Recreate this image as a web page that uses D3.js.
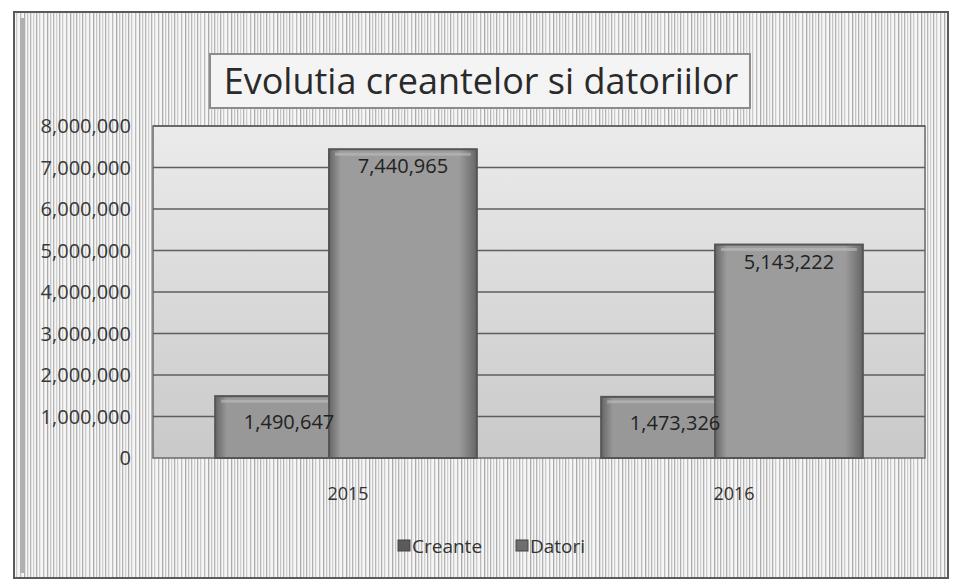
<!DOCTYPE html>
<html>
<head>
<meta charset="utf-8">
<script src="https://cdn.jsdelivr.net/npm/d3@7"></script>
<style>
  body { margin: 0; background: #ffffff; }
  svg { display: block; }
</style>
</head>
<body>
<script>
const years = ["2015", "2016"];
const seriesNames = ["Creante", "Datori"];
const creante = [1490647, 1473326];
const datori = [7440965, 5143222];
const yTicks = [0, 1000000, 2000000, 3000000, 4000000, 5000000, 6000000, 7000000, 8000000];
const title = "Evolutia creantelor si datoriilor";

const width = 953, height = 585;
const plotL = 153, plotR = 925, plotT = 126, plotB = 458;
const font = "'Open Sans', 'DejaVu Sans', sans-serif";
const fmt = d3.format(",");

const svg = d3.select("body").append("svg")
  .attr("width", width)
  .attr("height", height);

const defs = svg.append("defs");

// scan-like vertical stripes of the chart area
const stripes = defs.append("pattern")
  .attr("id", "stripes")
  .attr("patternUnits", "userSpaceOnUse")
  .attr("width", 23).attr("height", 40);
stripes.append("rect").attr("width", 23).attr("height", 40).attr("fill", "#f6f6f6");
[[1, 0.7], [4, 0.45], [7, 0.6], [10, 0.35], [13, 0.65], [16, 0.4], [20, 0.55]].forEach(([x, o]) => {
  stripes.append("rect").attr("x", x).attr("width", 1.3).attr("height", 40)
    .attr("fill", "#8a8a8a").attr("opacity", o);
});

const plotGrad = defs.append("linearGradient")
  .attr("id", "plotGrad").attr("x1", 0).attr("y1", 0).attr("x2", 0).attr("y2", 1);
plotGrad.append("stop").attr("offset", "0%").attr("stop-color", "#ebebeb");
plotGrad.append("stop").attr("offset", "100%").attr("stop-color", "#c9c9c9");

function barGrad(id, c1, c2) {
  const g = defs.append("linearGradient")
    .attr("id", id).attr("x1", 0).attr("y1", 0).attr("x2", 1).attr("y2", 0);
  g.append("stop").attr("offset", "0%").attr("stop-color", c2);
  g.append("stop").attr("offset", "8%").attr("stop-color", c1);
  g.append("stop").attr("offset", "88%").attr("stop-color", c1);
  g.append("stop").attr("offset", "100%").attr("stop-color", c2);
}
barGrad("gradCreante", "#989898", "#666666");
barGrad("gradDatori", "#9c9c9c", "#666666");

// chart area
svg.append("rect")
  .attr("x", 14).attr("y", 12)
  .attr("width", 934).attr("height", 566)
  .attr("fill", "url(#stripes)")
  .attr("stroke", "#5a5a5a").attr("stroke-width", 2);
svg.append("rect")
  .attr("x", 20).attr("y", 18).attr("width", 5).attr("height", 555)
  .attr("fill", "#b0b0b0");

// title box
svg.append("rect")
  .attr("x", 210).attr("y", 54).attr("width", 540).attr("height", 54)
  .attr("fill", "#f4f4f4")
  .attr("stroke", "#8c8c8c").attr("stroke-width", 2);
svg.append("text")
  .attr("x", 481).attr("y", 94)
  .attr("text-anchor", "middle")
  .attr("font-family", font)
  .attr("font-size", 36)
  .attr("fill", "#2a2a2a")
  .text(title);

const y = d3.scaleLinear().domain([0, 8000000]).range([plotB, plotT]);
const x = d3.scaleBand().domain(years).range([plotL, plotR]);
const barW = x.bandwidth() * 0.383;
const step = x.bandwidth() * 0.295;
const groupW = barW + step;

// plot area
svg.append("rect")
  .attr("x", plotL).attr("y", plotT)
  .attr("width", plotR - plotL).attr("height", plotB - plotT)
  .attr("fill", "url(#plotGrad)")
  .attr("stroke", "#6a6a6a").attr("stroke-width", 1.5);

svg.append("g")
  .selectAll("line")
  .data(yTicks.slice(1))
  .join("line")
  .attr("x1", plotL).attr("x2", plotR)
  .attr("y1", d => y(d)).attr("y2", d => y(d))
  .attr("stroke", "#5e5e5e").attr("stroke-width", 1.5);

// y axis labels
svg.append("g")
  .selectAll("text")
  .data(yTicks)
  .join("text")
  .attr("x", 131)
  .attr("y", d => y(d) + 7)
  .attr("text-anchor", "end")
  .attr("font-family", font)
  .attr("font-size", 20)
  .attr("fill", "#3a3a3a")
  .text(d => fmt(d));

// bars
const rows = years.map((yr, i) => ({ year: yr, creante: creante[i], datori: datori[i] }));
const gx = d => x(d.year) + x.bandwidth() / 2 - groupW / 2;

function drawBars(key, offset, fillId, stroke) {
  const g = svg.append("g");
  g.selectAll("rect")
    .data(rows)
    .join("rect")
    .attr("x", d => gx(d) + offset)
    .attr("y", d => y(d[key]))
    .attr("width", barW)
    .attr("height", d => plotB - y(d[key]))
    .attr("fill", `url(#${fillId})`)
    .attr("stroke", stroke).attr("stroke-width", 2);
  // bevel highlight
  g.selectAll("line")
    .data(rows)
    .join("line")
    .attr("x1", d => gx(d) + offset + 6).attr("x2", d => gx(d) + offset + barW - 6)
    .attr("y1", d => y(d[key]) + 5).attr("y2", d => y(d[key]) + 5)
    .attr("stroke", "#bdbdbd").attr("stroke-width", 3).attr("opacity", 0.6);
}
drawBars("creante", 0, "gradCreante", "#555555");
drawBars("datori", step, "gradDatori", "#555555");

// data labels
const labels = [];
rows.forEach(d => {
  labels.push({ x: gx(d) + barW / 2, y: y(d.creante) + 33, v: d.creante });
  labels.push({ x: gx(d) + step + barW / 2, y: y(d.datori) + 24, v: d.datori });
});
svg.append("g")
  .selectAll("text")
  .data(labels)
  .join("text")
  .attr("x", d => d.x)
  .attr("y", d => d.y)
  .attr("text-anchor", "middle")
  .attr("font-family", font)
  .attr("font-size", 20)
  .attr("fill", "#222")
  .text(d => fmt(d.v));

// x axis labels
svg.append("g")
  .selectAll("text")
  .data(years)
  .join("text")
  .attr("x", d => x(d) + x.bandwidth() / 2 + 2)
  .attr("y", 500)
  .attr("text-anchor", "middle")
  .attr("font-family", font)
  .attr("font-size", 18)
  .attr("fill", "#333")
  .text(d => d);

// legend
const legendX = [398, 516];
const legend = svg.append("g")
  .selectAll("g")
  .data(seriesNames)
  .join("g")
  .attr("transform", (d, i) => `translate(${legendX[i]},547)`);
legend.append("rect")
  .attr("x", 0).attr("y", -7).attr("width", 12).attr("height", 11)
  .attr("fill", (d, i) => i === 0 ? "#5a5a5a" : "#6e6e6e")
  .attr("stroke", "#444");
legend.append("text")
  .attr("x", 14).attr("y", 6)
  .attr("font-family", font)
  .attr("font-size", 19)
  .attr("fill", "#333")
  .text(d => d);
</script>
</body>
</html>
